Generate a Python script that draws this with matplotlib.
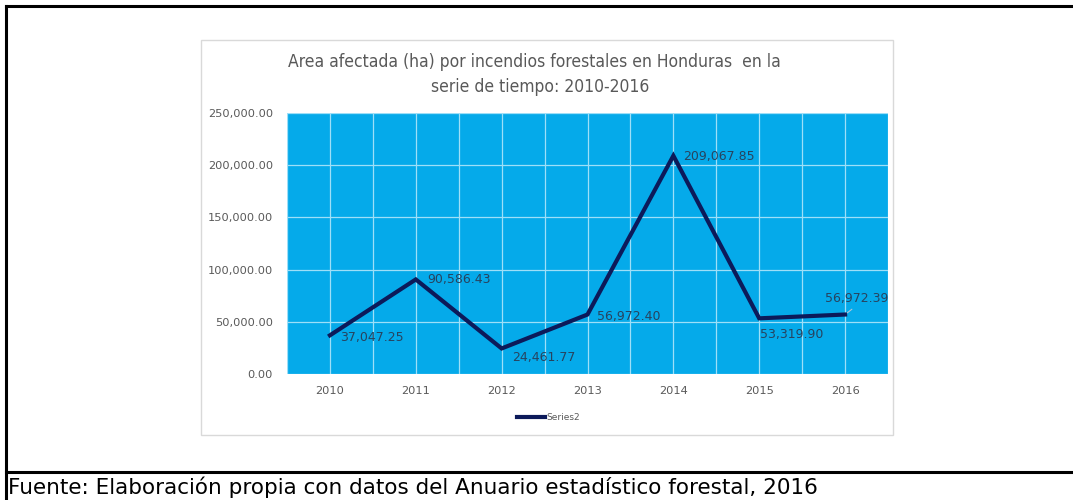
import matplotlib
matplotlib.use("Agg")
import matplotlib.pyplot as plt
from matplotlib.lines import Line2D
from matplotlib.patches import Rectangle

years = ["2010", "2011", "2012", "2013", "2014", "2015", "2016"]
area_ha = [37047.25, 90586.43, 24461.77, 56972.40, 209067.85, 53319.90, 56972.39]
value_labels = ["37,047.25", "90,586.43", "24,461.77", "56,972.40", "209,067.85", "53,319.90", "56,972.39"]
y_ticks = [0, 50000, 100000, 150000, 200000, 250000]
y_tick_labels = ["0.00", "50,000.00", "100,000.00", "150,000.00", "200,000.00", "250,000.00"]
title_lines = ["Area afectada (ha) por incendios forestales en Honduras  en la",
               "serie de tiempo: 2010-2016"]
legend_label = "Series2"
footer_text = "Fuente: Elaboración propia con datos del Anuario estadístico forestal, 2016"

W, H = 1073, 500
fig = plt.figure(figsize=(W / 100, H / 100), dpi=100)
fig.patch.set_facecolor("white")

def fx(px):
    return px / W

def fy(py):
    return 1 - py / H

# outer document borders
fig.add_artist(Line2D([fx(6), 1.0], [fy(6), fy(6)], color="black", lw=2.2, transform=fig.transFigure))
fig.add_artist(Line2D([fx(6), fx(6)], [fy(6), 0.0], color="black", lw=2.2, transform=fig.transFigure))
fig.add_artist(Line2D([fx(6), 1.0], [fy(472), fy(472)], color="black", lw=2.2, transform=fig.transFigure))

# chart box (behind the axes)
fig.add_artist(Rectangle((fx(201), fy(435)), fx(893) - fx(201), fy(40) - fy(435),
                         transform=fig.transFigure, facecolor="white", edgecolor="#d9d9d9",
                         lw=1.0, zorder=-5))

ax = fig.add_axes([fx(287), fy(374), fx(888) - fx(287), fy(113) - fy(374)])
ax.set_zorder(2)
ax.set_facecolor("#05AAEA")
x = list(range(len(years)))
ax.set_xlim(-0.5, len(years) - 0.5)
ax.set_ylim(0, 250000)

# gridlines
for gx in [i * 0.5 - 0.5 for i in range(2 * len(years) + 1)]:
    ax.axvline(gx, color="#9edff8", lw=0.9, zorder=1)
for t in y_ticks:
    ax.axhline(t, color="#9edff8", lw=0.9, zorder=1)

ax.plot(x, area_ha, color="#0C1A5A", lw=3.0, solid_joinstyle="miter", zorder=3)

ax.set_xticks(x)
ax.set_xticklabels(years)
ax.set_yticks(y_ticks)
ax.set_yticklabels(y_tick_labels)
ax.tick_params(axis="both", length=0, labelsize=8.2, labelcolor="#595959")
ax.tick_params(axis="y", pad=10)
ax.tick_params(axis="x", pad=9)
for s in ax.spines.values():
    s.set_visible(False)

# data labels (offsets in pixels)
offsets = [(10, -2), (11, 0), (10, -9), (10, -2), (10, -1), (1, -16), (-20, 16)]
for xi, v, lab, (dx, dy) in zip(x, area_ha, value_labels, offsets):
    ax.annotate(lab, (xi, v), xytext=(dx, dy), textcoords="offset pixels",
                ha="left", va="center", fontsize=9, color="#27435f", zorder=4)
# leader line for last label
ax.annotate("", (x[-1], area_ha[-1]), xytext=(9, 7), textcoords="offset pixels",
            arrowprops=dict(arrowstyle="-", color="#b0c4d8", lw=0.8))

# title
fig.text(fx(534), fy(62), title_lines[0], ha="center", va="center",
         fontsize=12.5, color="#595959", family="DejaVu Sans", fontstretch="condensed")
fig.text(fx(540), fy(87), title_lines[1], ha="center", va="center",
         fontsize=12.5, color="#595959", family="DejaVu Sans", fontstretch="condensed")

# legend
fig.add_artist(Line2D([fx(517), fx(545)], [fy(417), fy(417)], color="#0C1A5A", lw=3.0,
                      transform=fig.transFigure))
fig.text(fx(546), fy(417), legend_label, ha="left", va="center", fontsize=6.5, color="#595959")

# footer
fig.text(fx(8), fy(487), footer_text, ha="left", va="center", fontsize=15.5, color="black",
         family="DejaVu Sans")

fig.savefig("out.png", dpi=100)
